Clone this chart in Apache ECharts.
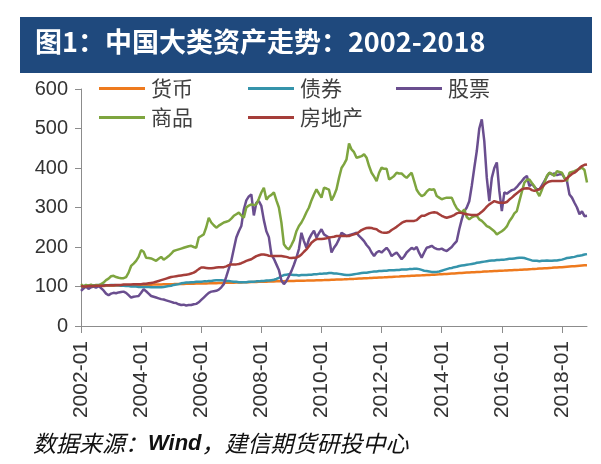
<!DOCTYPE html>
<html><head><meta charset="utf-8">
<script src="https://cdn.jsdelivr.net/npm/echarts@6/dist/echarts.min.js"></script>
<style>html,body{margin:0;padding:0;background:#fff;}#c{width:601px;height:464px;}</style>
</head><body><div id="c"></div>
<script>
var seriesNames = ['货币','债券','股票','商品','房地产'];
var tickLabels = ['2002-01','2004-01','2006-01','2008-01','2010-01','2012-01','2014-01','2016-01','2018-01'];
var yTicks = [0,100,200,300,400,500,600];
var startYear = 2002, endYear = 2018, endMonth = 11;

var money = [
100.0,100.2,100.3,100.5,100.7,100.8,101.0,101.2,101.3,101.5,101.7,101.8,
102.0,102.2,102.3,102.5,102.7,102.8,103.0,103.2,103.3,103.5,103.7,103.8,
104.0,104.2,104.3,104.5,104.7,104.8,105.0,105.2,105.3,105.5,105.7,105.8,
106.0,106.1,106.3,106.4,106.5,106.6,106.8,106.9,107.0,107.1,107.3,107.4,
107.5,107.7,107.9,108.0,108.2,108.4,108.5,108.7,108.9,109.0,109.2,109.4,
109.5,109.7,109.9,110.1,110.3,110.5,110.8,111.0,111.2,111.4,111.6,111.8,
112.0,112.2,112.3,112.5,112.7,112.8,113.0,113.2,113.3,113.5,113.7,113.8,
114.0,114.1,114.3,114.4,114.6,114.8,114.9,115.1,115.3,115.5,115.7,115.8,
116.0,116.2,116.5,116.7,117.0,117.2,117.5,117.7,118.0,118.2,118.5,118.7,
119.0,119.3,119.7,120.0,120.3,120.7,121.0,121.3,121.7,122.0,122.3,122.7,
123.0,123.3,123.7,124.0,124.3,124.7,125.0,125.3,125.7,126.0,126.3,126.7,
127.0,127.3,127.7,128.0,128.3,128.7,129.0,129.3,129.7,130.0,130.3,130.7,
131.0,131.4,131.8,132.3,132.7,133.1,133.5,133.9,134.3,134.8,135.2,135.6,
136.0,136.3,136.7,137.0,137.3,137.7,138.0,138.3,138.7,139.0,139.3,139.7,
140.0,140.3,140.7,141.0,141.3,141.7,142.0,142.3,142.7,143.0,143.3,143.7,
144.0,144.4,144.8,145.3,145.7,146.1,146.5,146.9,147.3,147.8,148.2,148.6,
149.0,149.5,150.0,150.5,151.0,151.5,152.0,152.5,153.0,153.5,154.0
];
var bond = [
100,101,101,102,102,103,103,104,104,104,103,103,
104,104,103,103,102,102,101,101,100,100,100,99,
99,99,99,99,98,98,98,98,98,99,100,101,
102,104,105,106,108,109,110,110,111,111,112,112,
112,113,113,114,114,115,116,116,116,115,114,114,
113,112,112,111,111,111,111,112,112,112,113,113,
114,114,115,115,116,117,119,122,126,129,130,131,
130,129,129,128,129,129,129,130,130,131,131,132,
132,133,133,134,134,133,133,132,131,130,129,129,
130,131,132,133,134,135,135,136,137,138,138,139,
139,140,140,141,141,141,142,142,143,143,143,144,
144,145,145,144,142,140,139,138,137,137,137,138,
140,142,144,146,147,149,150,152,153,154,155,156,
157,158,160,161,162,163,164,165,166,166,167,167,
168,168,169,170,170,171,172,173,173,172,170,168,
166,165,165,164,165,165,166,165,165,166,166,167,
168,170,172,173,174,175,177,178,179,181,182
];
var stock = [
89,95,100,94,98,100,97,101,96,90,82,78,
82,84,83,85,86,87,84,78,72,74,75,76,
84,93,88,82,76,74,72,70,68,67,65,63,
61,59,58,55,53,54,52,53,53,55,56,60,
66,72,78,84,87,88,89,92,98,106,125,145,
165,195,224,240,253,295,318,328,333,280,312,316,
304,268,240,225,181,170,156,142,115,106,114,126,
139,155,173,195,236,215,198,220,232,241,224,235,
245,232,228,224,186,198,207,220,236,232,228,230,
232,234,236,228,222,215,205,198,186,177,186,190,
186,192,198,190,177,182,186,178,169,176,186,192,
198,194,200,185,173,186,198,200,203,198,195,194,
196,192,190,195,200,208,215,245,270,290,300,316,
355,400,443,500,523,468,375,316,375,400,414,342,
291,338,335,340,344,346,352,360,367,375,380,354,
360,352,346,346,356,367,378,388,384,386,382,384,
386,375,367,333,325,312,300,283,290,278,279
];
var commodity = [
106,100,104,102,105,101,104,103,106,110,116,120,
126,127,124,122,121,121,124,135,152,158,165,175,
192,188,173,172,171,168,165,170,175,168,172,177,
183,190,192,194,196,198,200,202,203,200,198,224,
228,232,250,274,262,255,249,254,258,262,264,266,
272,279,283,287,280,274,300,305,308,306,308,322,
338,350,320,328,332,338,318,300,262,207,198,194,
205,218,240,253,262,274,288,300,318,333,346,335,
325,350,348,345,318,330,346,375,400,410,422,462,
447,440,426,428,430,435,426,405,388,378,367,388,
401,398,398,371,375,380,388,386,386,380,375,382,
388,367,345,335,329,332,340,346,345,346,329,325,
321,323,325,325,325,310,298,292,287,295,276,270,
275,278,279,270,266,260,253,250,245,240,232,236,
240,245,252,265,274,285,291,316,340,363,370,371,
362,354,340,329,345,363,380,388,385,380,392,390,
388,375,367,388,390,392,395,398,401,395,363
];
var realEstate = [
101,100,100,101,101,101,102,102,102,102,103,103,
103,103,104,104,104,105,105,105,105,106,106,106,
106,107,107,108,109,110,112,114,116,118,120,122,
124,125,126,127,128,129,130,131,133,135,139,144,
148,148,147,146,146,147,148,149,149,149,151,154,
156,156,156,157,159,162,165,167,169,173,177,179,
181,181,180,178,177,177,177,177,177,176,175,173,
172,173,173,176,181,188,194,202,211,216,220,220,
220,221,222,224,225,226,228,228,228,228,228,228,
230,232,234,238,243,246,248,249,248,246,245,240,
237,236,236,238,243,247,251,256,261,264,266,266,
266,266,268,274,279,279,282,285,287,288,287,283,
279,276,274,276,278,281,285,287,286,284,283,282,
281,281,281,284,289,295,302,308,312,316,314,312,
312,312,314,320,325,331,336,341,346,348,349,348,
344,342,344,346,351,358,363,366,367,367,367,367,
367,368,374,380,385,388,393,400,405,408,409
];

var categories = [];
for (var y = startYear; y <= endYear; y++) {
  for (var m = 1; m <= 12; m++) {
    if (y === endYear && m > endMonth) break;
    categories.push(y + '-' + (m < 10 ? '0' + m : m));
  }
}
var seriesData = [money, bond, stock, commodity, realEstate];
var colors = ['#EE7A1E', '#3594AB', '#6A4E8F', '#7EA53F', '#A53E3A'];

var chart = echarts.init(document.getElementById('c'), null, {renderer: 'canvas'});
var legendPos = [[99, 78], [248, 78], [396, 78], [99, 107], [248, 107]];
var legends = seriesNames.map(function (n, i) {
  return {
    data: [n], left: legendPos[i][0], top: legendPos[i][1], padding: 0,
    icon: 'rect', itemWidth: 46, itemHeight: 3, itemGap: 0,
    textStyle: {fontSize: 21, color: '#404040', fontFamily: 'Noto Sans CJK SC', padding: [0, 0, 0, 1]},
    selectedMode: false
  };
});

var isTick = function (idx, val) { return tickLabels.indexOf(val) >= 0; };

chart.setOption({
  animation: false,
  color: colors,
  legend: legends,
  graphic: [
    {type: 'rect', shape: {x: 20, y: 17, width: 572, height: 56}, style: {fill: '#1F497D'}, z: 0},
    {type: 'text', left: 35, top: 28, style: {text: '图1：中国大类资产走势：2002-2018', fill: '#fff', font: 'bold 27px "Noto Sans CJK SC"'}},
    {type: 'text', left: 33, top: 432, style: {
      text: '{a|数据来源：}{b|Wind}{a|，建信期货研投中心}',
      rich: {
        a: {fontSize: 23, fontStyle: 'italic', fontFamily: 'Noto Sans CJK SC', fill: '#111', color: '#111'},
        b: {fontSize: 22, fontStyle: 'italic', fontWeight: 'bold', fontFamily: 'Liberation Sans', fill: '#111', color: '#111'}
      }
    }}
  ],
  grid: {left: 81, right: 14, top: 89, bottom: 138, containLabel: false},
  xAxis: {
    type: 'category', data: categories, boundaryGap: false,
    axisLine: {lineStyle: {color: '#8C8C8C', width: 1}},
    axisTick: {show: true, interval: isTick, length: 7, lineStyle: {color: '#8C8C8C'}},
    axisLabel: {interval: isTick, rotate: 90, fontSize: 21, color: '#333', margin: 15, fontFamily: 'Liberation Sans'},
    splitLine: {show: false}
  },
  yAxis: {
    type: 'value', min: 0, max: 600, interval: 100,
    axisLine: {show: true, lineStyle: {color: '#8C8C8C', width: 1}},
    axisTick: {show: true, length: 6, lineStyle: {color: '#8C8C8C'}},
    axisLabel: {fontSize: 20, color: '#333', margin: 13, fontFamily: 'Liberation Sans',
      formatter: function (v) { return yTicks.indexOf(v) >= 0 ? String(v) : ''; }},
    splitLine: {show: false}
  },
  series: seriesNames.map(function (n, i) {
    return {name: n, type: 'line', data: seriesData[i], showSymbol: false, symbol: 'none',
      lineStyle: {width: 2.5, color: colors[i]}, itemStyle: {color: colors[i]}, z: 2 + i};
  })
});
</script>
</body></html>
